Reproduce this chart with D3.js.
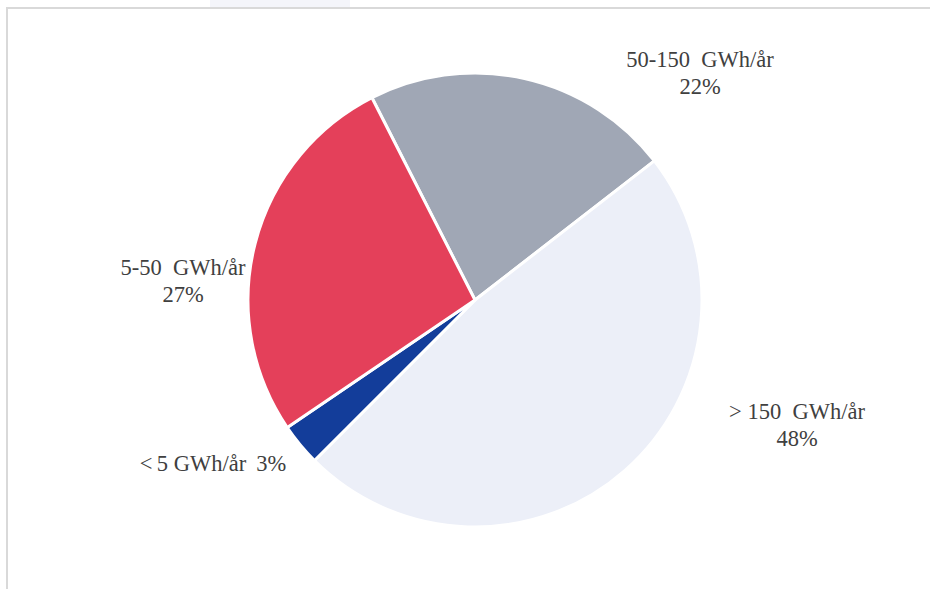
<!DOCTYPE html>
<html><head><meta charset="utf-8">
<script src="https://cdn.jsdelivr.net/npm/d3@7"></script>
<style>body{margin:0;background:#fff;}svg{display:block;}</style>
</head><body>
<svg id="c" width="930" height="589"></svg>
<script>
const categories = ["50-150 GWh/år", "> 150 GWh/år", "< 5 GWh/år", "5-50 GWh/år"];
const values = [22, 48, 3, 27];
const pctLabels = ["22%", "48%", "3%", "27%"];
const colors = ["#A0A7B5", "#ECEFF8", "#133D9A", "#E4405A"];

const svg = d3.select("#c");
// frame lines
svg.append("rect").attr("x",210).attr("y",0).attr("width",140).attr("height",8).attr("fill","#F4F5FA");
svg.append("line").attr("x1",6).attr("x2",930).attr("y1",8).attr("y2",8).attr("stroke","#D9D9D9").attr("stroke-width",2);
svg.append("line").attr("x1",7).attr("x2",7).attr("y1",8).attr("y2",589).attr("stroke","#D9D9D9").attr("stroke-width",2);

const cx = 475, cy = 300, r = 227;
const startA = -27 * Math.PI / 180;
const pie = d3.pie().sort(null).startAngle(startA).endAngle(startA + 2*Math.PI);
const arcs = pie(values);
const arc = d3.arc().innerRadius(0).outerRadius(r);
const g = svg.append("g").attr("transform", `translate(${cx},${cy})`);
g.selectAll("path").data(arcs).join("path")
  .attr("d", arc).attr("fill", (d,i)=>colors[i])
  .attr("stroke", "#fff").attr("stroke-width", 3).attr("stroke-linejoin","round");

const font = "Liberation Serif, Times New Roman, serif";
const lab = svg.append("g").attr("font-family", font).attr("font-size", 22.5).attr("fill", "#404040").attr("text-anchor","middle");
const pos = [[700, 67], [797, 419], [213, 471], [183, 275]];
arcs.forEach((d,i)=>{
  const [x,y] = pos[i];
  if (i === 2) {
    lab.append("text").attr("x", x).attr("y", y).text(categories[i].replace("< ", "<\u2009") + "\u2009 " + pctLabels[i]);
  } else {
    const t = lab.append("text").attr("x", x).attr("y", y);
    t.append("tspan").attr("x", x).attr("dy", 0).text(categories[i].replace(" GWh", "\u00a0 GWh"));
    t.append("tspan").attr("x", x).attr("dy", 27).text(pctLabels[i]);
  }
});
</script>
</body></html>
